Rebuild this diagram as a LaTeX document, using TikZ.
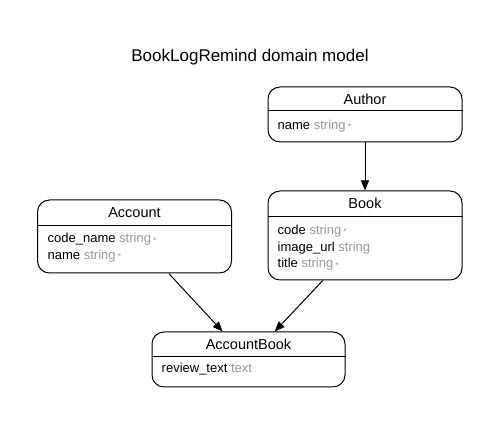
\documentclass[tikz,border=0pt]{standalone}
\usepackage{fontspec}
\setmainfont{Liberation Sans}
\usetikzlibrary{arrows.meta}
\definecolor{typegray}{HTML}{999999}
\newcommand{\req}{\,\raisebox{-0.3pt}{\fontsize{8.5}{8.5}\selectfont\color{typegray}*}}
\newcommand{\ty}[1]{\textcolor{typegray}{#1}}
\tikzset{
  entity/.style={draw=black, line width=1pt, rounded corners=12pt, fill=white, inner sep=0pt},
  header/.style={font=\fontsize{14.5}{16}\selectfont, anchor=center, inner sep=0pt},
  field/.style={font=\fontsize{13}{15}\selectfont, anchor=base west, inner sep=0pt},
  divider/.style={line width=1pt},
  rel/.style={line width=1pt, -{Triangle[length=10pt,width=8pt]}},
}
\begin{document}
\begin{tikzpicture}[x=1pt,y=1pt]
\useasboundingbox[fill=white] (0,0) rectangle (499,427);
\node[font=\fontsize{17}{19}\selectfont, anchor=base, inner sep=0pt] (title) at (250,365) {BookLogRemind domain model};

% Author
\node[entity, minimum width=194pt, minimum height=55pt] (author) at (365,312.5) {};
\draw[divider] ([yshift=-24pt]author.north west) -- ([yshift=-24pt]author.north east);
\node[header] (authorh) at ([yshift=-12.5pt]author.north) {Author};
\node[field] (authorf1) at ([xshift=10pt,yshift=-43pt]author.north west) {name \ty{string}\req};

% Book
\node[entity, minimum width=194pt, minimum height=89pt] (book) at (365,191.5) {};
\draw[divider] ([yshift=-26pt]book.north west) -- ([yshift=-26pt]book.north east);
\node[header] (bookh) at ([yshift=-13pt]book.north) {Book};
\node[field] (bookf1) at ([xshift=10pt,yshift=-44pt]book.north west) {code \ty{string}\req};
\node[field] (bookf2) at ([xshift=10pt,yshift=-61pt]book.north west) {image\_url \ty{string}};
\node[field] (bookf3) at ([xshift=10pt,yshift=-77.5pt]book.north west) {title \ty{string}\req};

% Account
\node[entity, minimum width=194pt, minimum height=73pt] (account) at (134.5,190.5) {};
\draw[divider] ([yshift=-26pt]account.north west) -- ([yshift=-26pt]account.north east);
\node[header] (accounth) at ([yshift=-13pt]account.north) {Account};
\node[field] (accountf1) at ([xshift=10.5pt,yshift=-43.5pt]account.north west) {code\_name \ty{string}\req};
\node[field] (accountf2) at ([xshift=10.5pt,yshift=-60pt]account.north west) {name \ty{string}\req};

% AccountBook
\node[entity, minimum width=193pt, minimum height=55pt] (acctbook) at (248.5,67.5) {};
\draw[divider] ([yshift=-25pt]acctbook.north west) -- ([yshift=-25pt]acctbook.north east);
\node[header] (acctbookh) at ([yshift=-12.5pt]acctbook.north) {AccountBook};
\node[field] (acctbookf1) at ([xshift=10pt,yshift=-41.5pt]acctbook.north west) {review\_text \ty{text}};

% relations
\draw[rel] (author) -- (book);
\draw[rel] (account) -- (acctbook);
\draw[rel] (book) -- (acctbook);
\end{tikzpicture}
\end{document}
